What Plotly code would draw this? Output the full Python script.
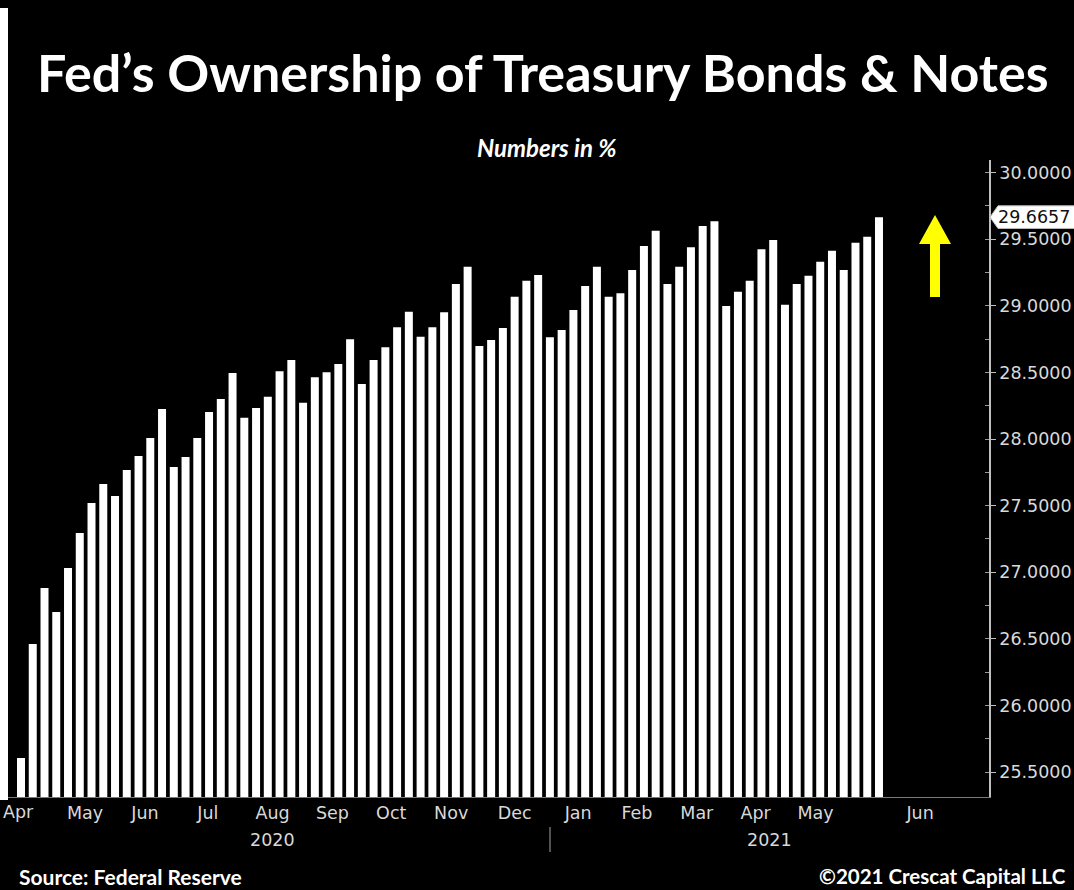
import plotly.graph_objects as go

# Weekly share of Treasury bonds & notes held by the Fed (%)
ownership_pct = [
    25.605, 26.461, 26.881, 26.701, 27.032, 27.294, 27.520, 27.662, 27.572, 27.767,
    27.872, 28.008, 28.225, 27.790, 27.865, 28.008, 28.203, 28.300, 28.495, 28.160,
    28.233, 28.318, 28.508, 28.593, 28.273, 28.463, 28.501, 28.563, 28.748, 28.413,
    28.593, 28.688, 28.839, 28.956, 28.768, 28.839, 28.951, 29.164, 29.294, 28.698,
    28.743, 28.833, 29.068, 29.188, 29.231, 28.764, 28.818, 28.968, 29.149, 29.294,
    29.068, 29.094, 29.269, 29.449, 29.564, 29.164, 29.294, 29.439, 29.599, 29.634,
    28.998, 29.106, 29.188, 29.424, 29.494, 29.008, 29.164, 29.226, 29.331, 29.414,
    29.269, 29.474, 29.519, 29.6657,
]
month_labels = ["Apr", "May", "Jun", "Jul", "Aug", "Sep", "Oct", "Nov", "Dec",
                "Jan", "Feb", "Mar", "Apr", "May", "Jun"]
year_labels = ["2020", "2021"]

# label placement along the bar index axis
month_label_pos = [-1.05, 5.45, 10.55, 15.9, 21.4, 26.5, 31.5, 36.6, 42.0,
                   47.4, 52.4, 57.5, 62.5, 67.6, 76.5]
year_label_pos = [21.4, 63.7]

W, H = 1074, 890
ML, MR, MT, MB = 8, 85, 160, 93
PW, PH = W - ML - MR, H - MT - MB


def px_x(p):
    return (p - ML) / PW


def px_y(p):
    return (H - MB - p) / PH


TICK_FONT = dict(family="DejaVu Sans", size=17.5, color="#d9d9d9")
TEXT_FONT = "Lato"

fig = go.Figure()
fig.add_trace(go.Bar(
    x=list(range(len(ownership_pct))),
    y=ownership_pct,
    marker=dict(color="#ffffff", line=dict(width=0)),
    hoverinfo="y",
))

last = ownership_pct[-1]
half_tag = 0.085

shapes = [
    # white strip along the left edge
    dict(type="rect", xref="paper", yref="paper", x0=px_x(0), x1=px_x(8),
         y0=px_y(800), y1=px_y(8), fillcolor="#ffffff", line=dict(width=0),
         layer="above"),
    # year divider below the axis
    dict(type="line", xref="paper", yref="paper", x0=px_x(550), x1=px_x(550),
         y0=px_y(827), y1=px_y(852), line=dict(color="#6e6e6e", width=1.5)),
    # last-value tag on the price axis
    dict(type="path", xref="paper", yref="y",
         path=(f"M {px_x(990)} {last} L {px_x(998)} {last + half_tag} "
               f"L {px_x(1080)} {last + half_tag} L {px_x(1080)} {last - half_tag} "
               f"L {px_x(998)} {last - half_tag} Z"),
         fillcolor="#ffffff", line=dict(color="#bdbdbd", width=1), layer="above"),
    # yellow up arrow
    dict(type="path", xref="paper", yref="paper",
         path=(f"M {px_x(935)} {px_y(215)} L {px_x(951)} {px_y(244)} "
               f"L {px_x(940)} {px_y(244)} L {px_x(940)} {px_y(297)} "
               f"L {px_x(930)} {px_y(297)} L {px_x(930)} {px_y(244)} "
               f"L {px_x(919)} {px_y(244)} Z"),
         fillcolor="#ffff00", line=dict(width=0)),
]

annotations = [
    dict(text="<b>Fed’s Ownership of Treasury Bonds &amp; Notes</b>",
         xref="paper", yref="paper", x=px_x(543), y=px_y(72),
         xanchor="center", yanchor="middle", showarrow=False,
         font=dict(family=TEXT_FONT, size=52, color="#ffffff")),
    dict(text="<b><i>Numbers in %</i></b>",
         xref="paper", yref="paper", x=px_x(547), y=px_y(147),
         xanchor="center", yanchor="middle", showarrow=False,
         font=dict(family=TEXT_FONT, size=24, color="#ffffff")),
    dict(text="<b>Source: Federal Reserve</b>",
         xref="paper", yref="paper", x=px_x(17), y=px_y(876),
         xanchor="left", yanchor="middle", showarrow=False,
         font=dict(family=TEXT_FONT, size=21, color="#ffffff")),
    dict(text="<b>©2021 Crescat Capital LLC</b>",
         xref="paper", yref="paper", x=px_x(1068), y=px_y(876),
         xanchor="right", yanchor="middle", showarrow=False,
         font=dict(family=TEXT_FONT, size=20.5, color="#ffffff")),
    dict(text=f"{last:.4f}", xref="paper", yref="y", x=px_x(996), y=last,
         xanchor="left", yanchor="middle", showarrow=False,
         font=dict(family="DejaVu Sans", size=17.5, color="#111111")),
    # first month label sits at the left page edge
    dict(text=month_labels[0], xref="paper", yref="paper", x=px_x(1),
         y=px_y(812), xanchor="left", yanchor="middle", showarrow=False,
         font=TICK_FONT),
]
for lbl, pos in zip(year_labels, year_label_pos):
    annotations.append(dict(text=lbl, xref="x", yref="paper", x=pos,
                            y=px_y(840), xanchor="center", yanchor="middle",
                            showarrow=False, font=TICK_FONT))

fig.update_layout(
    width=W, height=H, autosize=False,
    margin=dict(l=ML, r=MR, t=MT, b=MB, pad=0),
    paper_bgcolor="#000000", plot_bgcolor="#000000",
    showlegend=False, bargap=0.32,
    shapes=shapes, annotations=annotations,
    xaxis=dict(
        range=[-1.106, 82.36], tickvals=month_label_pos[1:],
        ticktext=month_labels[1:], automargin=False,
        ticks="", showgrid=False, zeroline=False, showline=True,
        linecolor="#7a7a7a", linewidth=1, tickfont=TICK_FONT,
    ),
    yaxis=dict(
        side="right", range=[25.3123, 30.0946], tick0=25.5, dtick=0.5,
        tickformat=".4f", ticks="outside", ticklen=5, tickcolor="#bfbfbf",
        showline=True, linecolor="#bfbfbf", linewidth=1.5, automargin=False,
        showgrid=False, zeroline=False, tickfont=TICK_FONT,
        minor=dict(dtick=0.25, ticks="inside", ticklen=4, tickcolor="#9a9a9a"),
    ),
)

fig.write_html("out.html")
